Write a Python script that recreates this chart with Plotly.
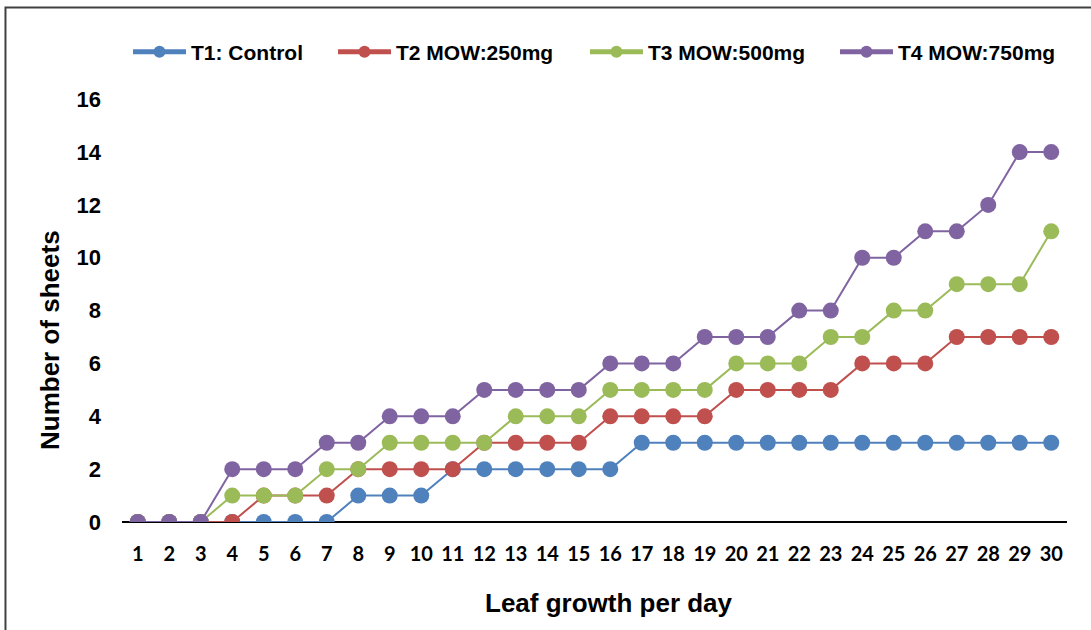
import plotly.graph_objects as go

days = list(range(1, 31))
series_names = ["T1: Control", "T2 MOW:250mg", "T3 MOW:500mg", "T4 MOW:750mg"]
t1 = [0, 0, 0, 0, 0, 0, 0, 1, 1, 1, 2, 2, 2, 2, 2, 2, 3, 3, 3, 3, 3, 3, 3, 3, 3, 3, 3, 3, 3, 3]
t2 = [0, 0, 0, 0, 1, 1, 1, 2, 2, 2, 2, 3, 3, 3, 3, 4, 4, 4, 4, 5, 5, 5, 5, 6, 6, 6, 7, 7, 7, 7]
t3 = [0, 0, 0, 1, 1, 1, 2, 2, 3, 3, 3, 3, 4, 4, 4, 5, 5, 5, 5, 6, 6, 6, 7, 7, 8, 8, 9, 9, 9, 11]
t4 = [0, 0, 0, 2, 2, 2, 3, 3, 4, 4, 4, 5, 5, 5, 5, 6, 6, 6, 7, 7, 7, 8, 8, 10, 10, 11, 11, 12, 14, 14]
y_ticks = [0, 2, 4, 6, 8, 10, 12, 14, 16]

colors = ["#4F81BD", "#C0504D", "#9BBB59", "#8064A2"]
legend_ids = ["legend", "legend2", "legend3", "legend4"]
legend_x = [0.00635, 0.2233, 0.4899, 0.7545]

fig = go.Figure()
for name, vals, col, lid in zip(series_names, [t1, t2, t3, t4], colors, legend_ids):
    fig.add_trace(go.Scatter(
        x=days, y=vals, name=name, mode="lines+markers",
        line=dict(color=col, width=2),
        marker=dict(color=col, size=16),
        legend=lid,
    ))

legend_font = dict(family="Liberation Sans, Arial, sans-serif", size=21, color="black", weight="bold")
leg_common = dict(orientation="h", yanchor="middle", y=1.078, xanchor="left",
                  font=legend_font, itemwidth=53, itemsizing="constant",
                  bgcolor="rgba(0,0,0,0)", borderwidth=0)

layout_legends = {}
for lid, lx in zip(legend_ids, legend_x):
    layout_legends[lid] = dict(x=lx, **leg_common)

fig.update_layout(
    width=1091, height=630,
    margin=dict(l=122, r=24, t=86, b=108),
    paper_bgcolor="white", plot_bgcolor="white",
    showlegend=True,
    **layout_legends,
    xaxis=dict(
        range=[0.5, 30.5], tickmode="array", tickvals=days,
        ticktext=[str(d) for d in days],
        showline=False, showgrid=False, zeroline=False, ticks="",
        tickfont=dict(family="Lato, Carlito, Calibri, sans-serif", size=20, color="black", weight="bold"),
        ticklabelstandoff=18,
        layer="below traces",
    ),
    yaxis=dict(
        range=[0, 16.5], tickmode="array", tickvals=y_ticks,
        showline=False, showgrid=False, zeroline=True, zerolinecolor="black", zerolinewidth=2,
        ticks="",
        tickfont=dict(family="Liberation Sans, Arial, sans-serif", size=22, color="black", weight="bold"),
        ticklabelstandoff=20,
        layer="below traces",
    ),
    annotations=[
        dict(text="<b>Leaf growth per day</b>", xref="paper", yref="paper",
             x=0.5153, y=-0.1858, xanchor="center", yanchor="middle", showarrow=False,
             font=dict(family="Liberation Sans, Arial, sans-serif", size=26, color="black")),
        dict(text="<b>Number of sheets</b>", xref="paper", yref="paper",
             x=-0.0762, y=0.4174, xanchor="center", yanchor="middle", showarrow=False,
             textangle=-90,
             font=dict(family="Liberation Sans, Arial, sans-serif", size=26, color="black")),
    ],
    shapes=[
        dict(type="rect", xref="paper", yref="paper",
             x0=-0.1233, x1=1.2, y0=-0.6, y1=1.1800,
             line=dict(color="#404040", width=2), fillcolor="rgba(0,0,0,0)", layer="below"),
    ],
)

fig.write_html("out.html", config={"displayModeBar": False},
               post_script="document.body.style.margin='0px';")
